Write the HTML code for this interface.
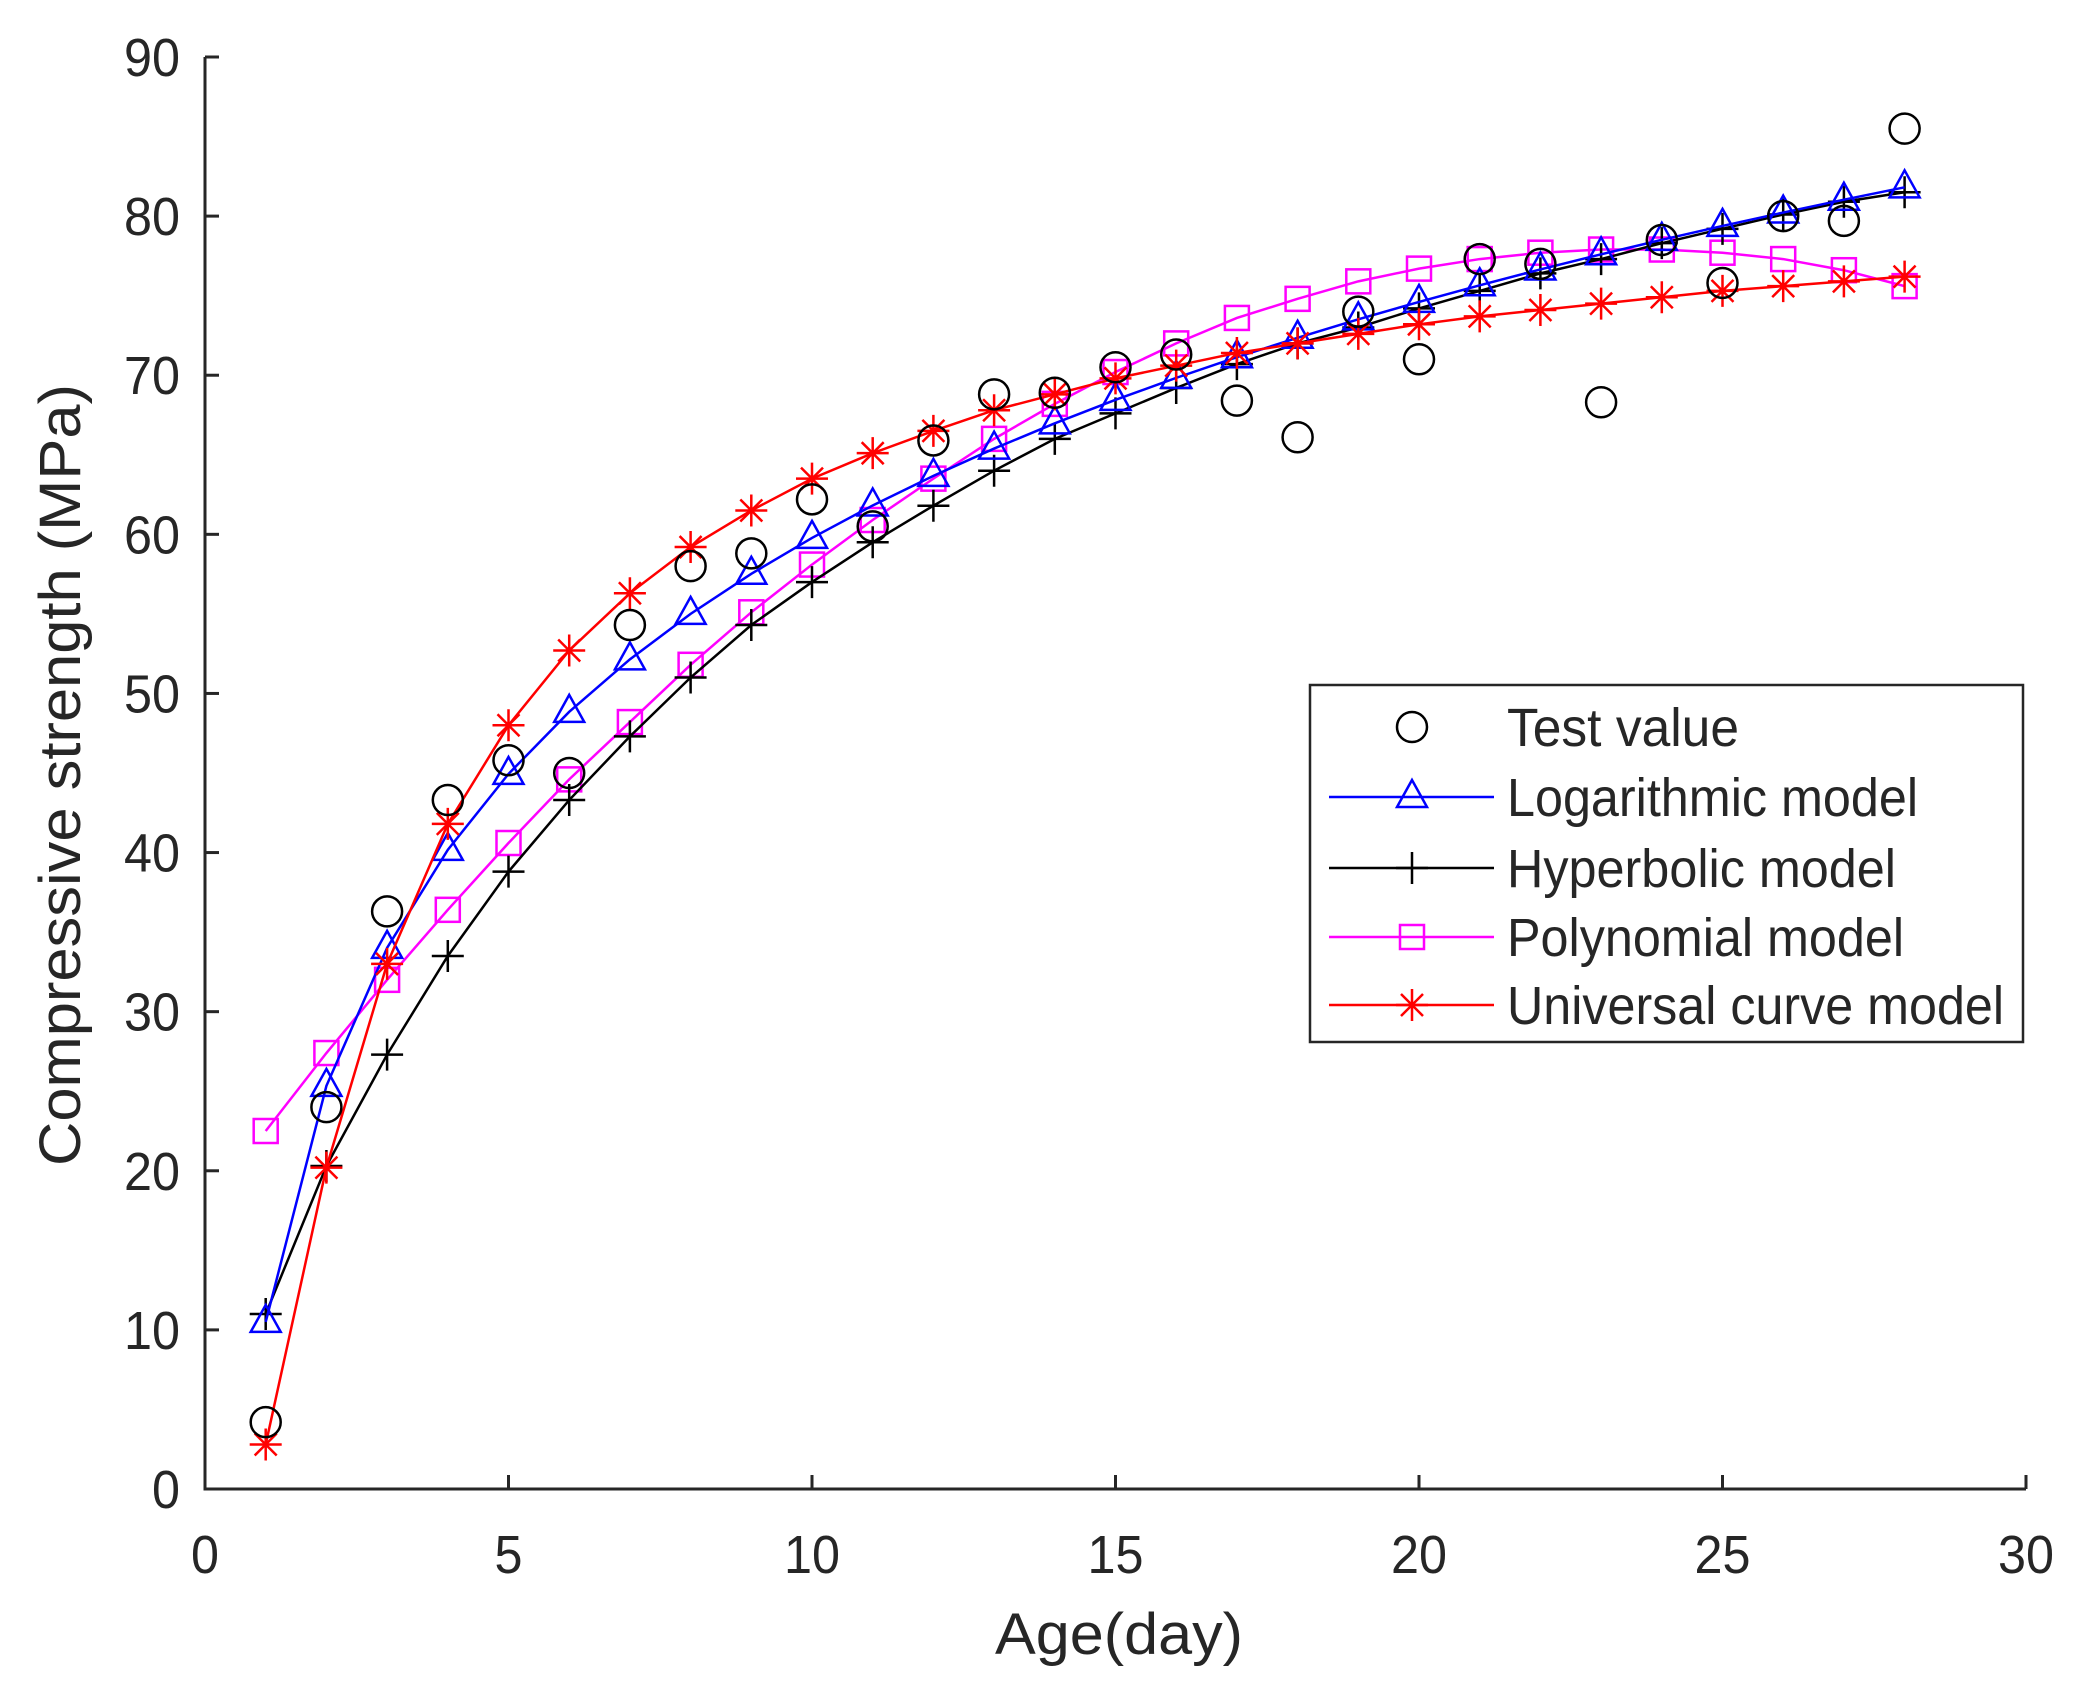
<!DOCTYPE html>
<html><head><meta charset="utf-8"><style>
body{margin:0;background:#fff}
svg text{font-family:"Liberation Sans Narrow","Liberation Sans",Arial,sans-serif;fill:#262626}
</style></head><body>
<svg id="s" width="2077" height="1695" xmlns="http://www.w3.org/2000/svg"></svg>
<script>
const s=document.getElementById('s');
const X=t=>205+t*(2026-205)/30, Y=v=>1489-v*(1489-57)/90;
let h='';
const T=(x,y,sz,txt,anchor,len)=>`<text x="${x}" y="${y}" font-size="${sz}" text-anchor="${anchor}" textLength="${len}" lengthAdjust="spacingAndGlyphs">${txt}</text>`;
h+=`<path d="M205,57 V1489 H2026" fill="none" stroke="#262626" stroke-width="3"/>`;
for(let v=0;v<=90;v+=10){const y=Y(v);h+=`<line x1="205" y1="${y}" x2="219" y2="${y}" stroke="#262626" stroke-width="3"/>`+T(180,y+19,54,v,'end',v?56:28);}
for(let t=0;t<=30;t+=5){const x=X(t);h+=`<line x1="${x}" y1="1489" x2="${x}" y2="1475" stroke="#262626" stroke-width="3"/>`+T(x,1573,54,t,'middle',t>=10?56:28);}
h+=T(1119,1654,58,'Age(day)','middle',248);
h+=`<g transform="translate(80,775) rotate(-90)">`+T(0,0,58,'Compressive strength (MPa)','middle',782)+`</g>`;
const test=[4.2,24,36.3,43.3,45.8,45,54.3,58,58.8,62.2,60.5,65.9,68.8,68.9,70.5,71.3,68.4,66.1,74,71,77.3,77,68.3,78.5,75.8,80,79.7,85.5];
const log=[];for(let t=1;t<=28;t++)log.push(10.5+21.4*Math.log(t));
const hyp=[11,20.3,27.3,33.5,38.8,43.3,47.3,51,54.3,57,59.5,61.8,64,66,67.6,69.2,70.7,72,73,74.2,75.3,76.4,77.3,78.3,79.2,80.1,80.9,81.5];
const poly=[22.5,27.4,32,36.4,40.6,44.6,48.2,51.8,55.1,58.1,60.9,63.5,66,68.2,70.2,72,73.6,74.8,75.9,76.7,77.3,77.7,77.9,77.9,77.7,77.3,76.6,75.6];
const uni=[2.8,20.2,33,41.8,48,52.7,56.3,59.2,61.5,63.5,65.1,66.5,67.8,68.8,69.8,70.6,71.4,72,72.6,73.2,73.7,74.1,74.5,74.9,75.3,75.6,75.9,76.2];
function mk(type,x,y,c){
 if(type=='o')return `<circle cx="${x}" cy="${y}" r="15" fill="none" stroke="${c}" stroke-width="2.5"/>`;
 if(type=='^')return `<path d="M${x},${y-17} L${x+15},${y+10} L${x-15},${y+10} Z" fill="none" stroke="${c}" stroke-width="2.5"/>`;
 if(type=='+')return `<path d="M${x-16},${y} H${x+16} M${x},${y-16} V${y+16}" stroke="${c}" stroke-width="2.5"/>`;
 if(type=='s')return `<rect x="${x-12}" y="${y-12}" width="24" height="24" fill="none" stroke="${c}" stroke-width="2.5"/>`;
 if(type=='*')return `<path d="M${x-16},${y} H${x+16} M${x},${y-16} V${y+16} M${x-11},${y-11} L${x+11},${y+11} M${x-11},${y+11} L${x+11},${y-11}" stroke="${c}" stroke-width="2.5"/>`;
}
function series(d,type,c,line){
 if(line)h+=`<polyline points="${d.map((v,i)=>X(i+1)+','+Y(v)).join(' ')}" fill="none" stroke="${c}" stroke-width="2.5"/>`;
 d.forEach((v,i)=>h+=mk(type,X(i+1),Y(v),c));
}
series(poly,'s','#ff00ff',1);
series(hyp,'+','#000',1);
series(log,'^','#0000ff',1);
series(uni,'*','#ff0000',1);
series(test,'o','#000',0);
h+=`<rect x="1310" y="685" width="713" height="357" fill="#fff" stroke="#262626" stroke-width="2.5"/>`;
const L=[['o','#000','Test value',0,232],['^','#0000ff','Logarithmic model',1,411],['+','#000','Hyperbolic model',1,389],['s','#ff00ff','Polynomial model',1,397],['*','#ff0000','Universal curve model',1,497]];
const ry=[727,797,868,937,1005];
L.forEach((l,i)=>{const y=ry[i];if(l[3])h+=`<line x1="1329" y1="${y}" x2="1494" y2="${y}" stroke="${l[1]}" stroke-width="2.5"/>`;h+=mk(l[0],1412,y,l[1]);h+=T(1507,y+19,54,l[2],'start',l[4]);});
s.innerHTML=h;
</script>
</body></html>
